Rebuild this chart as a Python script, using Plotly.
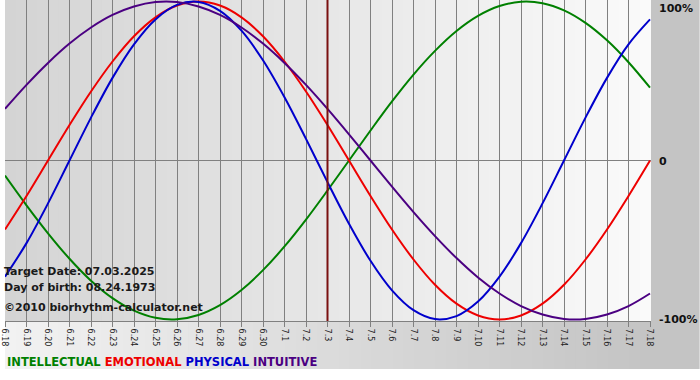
import plotly.graph_objects as go

days = ["6.18", "6.19", "6.20", "6.21", "6.22", "6.23", "6.24", "6.25", "6.26", "6.27",
        "6.28", "6.29", "6.30", "7.1", "7.2", "7.3", "7.4", "7.5", "7.6", "7.7",
        "7.8", "7.9", "7.10", "7.11", "7.12", "7.13", "7.14", "7.15", "7.16", "7.17", "7.18"]

intellectual = [-0.095, -0.282, -0.458, -0.618, -0.756, -0.866, -0.945, -0.990, -0.999, -0.972,
                -0.910, -0.815, -0.690, -0.541, -0.372, -0.189, 0.000, 0.189, 0.372, 0.541,
                0.690, 0.815, 0.910, 0.972, 0.999, 0.990, 0.945, 0.866, 0.756, 0.618, 0.458]
emotional = [-0.434, -0.223, 0.000, 0.223, 0.434, 0.623, 0.782, 0.901, 0.975, 1.000,
             0.975, 0.901, 0.782, 0.623, 0.434, 0.223, 0.000, -0.223, -0.434, -0.623,
             -0.782, -0.901, -0.975, -1.000, -0.975, -0.901, -0.782, -0.623, -0.434, -0.223, 0.000]
physical = [-0.731, -0.520, -0.270, 0.000, 0.270, 0.520, 0.731, 0.888, 0.979, 0.998,
            0.942, 0.817, 0.631, 0.398, 0.136, -0.136, -0.398, -0.631, -0.817, -0.942,
            -0.998, -0.979, -0.888, -0.731, -0.520, -0.270, 0.000, 0.270, 0.520, 0.731, 0.888]
intuitive = [0.325, 0.476, 0.614, 0.736, 0.837, 0.916, 0.969, 0.997, 0.997, 0.969,
             0.916, 0.837, 0.736, 0.614, 0.476, 0.325, 0.165, 0.000, -0.165, -0.325,
             -0.476, -0.614, -0.736, -0.837, -0.916, -0.969, -0.997, -0.997, -0.969, -0.916, -0.837]

target_label = "7.3"
y_labels = ["100%", "0", "-100%"]
y_label_vals = [1, 0, -1]

x = list(range(len(days)))
W, H = 700, 380
L, R, T, B = 0, 49, 0, 59
pw, ph = W - L - R, H - T - B

fig = go.Figure()
series = [("INTELLECTUAL", intellectual, "#008000"),
          ("EMOTIONAL", emotional, "#ee0000"),
          ("PHYSICAL", physical, "#0000cc"),
          ("INTUITIVE", intuitive, "#4b0082")]
for name, vals, col in series:
    fig.add_trace(go.Scatter(x=x, y=vals, mode="lines", name=name,
                             line=dict(color=col, width=2, shape="spline", smoothing=1.0),
                             hoverinfo="skip"))

shapes = []
N = 60
def mix(c1, c2, t):
    return "rgb(%d,%d,%d)" % tuple(round(a + (b - a) * t) for a, b in zip(c1, c2))
for i in range(N):
    t = i / (N - 1)
    shapes.append(dict(type="rect", xref="paper", yref="paper", x0=i / N, x1=(i + 1) / N + 0.002,
                       y0=0, y1=1, fillcolor=mix((212, 212, 212), (250, 250, 250), t),
                       line=dict(width=0), layer="below"))
bot = (369 - (H - B)) / ph
for i in range(N):
    t = i / (N - 1)
    shapes.append(dict(type="rect", xref="paper", yref="paper", x0=i / N, x1=(i + 1) / N + 0.002,
                       y0=-bot, y1=0, fillcolor=mix((242, 242, 242), (196, 196, 196), t),
                       line=dict(width=0), layer="below"))
shapes.append(dict(type="rect", xref="paper", yref="paper", x0=1, x1=W / pw,
                   y0=-bot, y1=1.0 + 1 / ph, fillcolor="rgb(196,196,196)",
                   line=dict(width=0), layer="below"))
ti = days.index(target_label)
shapes.append(dict(type="line", xref="x", yref="paper", x0=ti, x1=ti, y0=0, y1=1,
                   line=dict(color="#7a1010", width=2), layer="above"))
shapes.append(dict(type="line", xref="paper", yref="y", x0=0, x1=1, y0=0, y1=0,
                   line=dict(color="#808080", width=1), layer="below"))

annotations = []
for lab, v in zip(y_labels, y_label_vals):
    annotations.append(dict(xref="paper", yref="y", x=1 + 6 / pw, y=v, text="<b>%s</b>" % lab,
                            showarrow=False, xanchor="left", yanchor="middle",
                            yshift=(-7 if v == 1 else (0 if v == -1 else -1)),
                            font=dict(family="DejaVu Sans", size=11, color="#111111")))
info = ["Target Date: 07.03.2025", "Day of birth: 08.24.1973", "©2010 biorhythm-calculator.net"]
info_y = [271, 287, 307]
for txt, py in zip(info, info_y):
    annotations.append(dict(xref="paper", yref="paper", x=-3 / pw, y=1 - py / ph, text="<b>%s</b>" % txt,
                            showarrow=False, xanchor="left", yanchor="middle",
                            font=dict(family="DejaVu Sans", size=11, color="#1a1a1a")))
legend_txt = " ".join('<span style="color:%s">%s</span>' % (c, n) for n, _, c in series)
annotations.append(dict(xref="paper", yref="paper", x=0, y=1 - 362 / ph, text="<b>%s</b>" % legend_txt,
                        showarrow=False, xanchor="left", yanchor="middle",
                        font=dict(family="DejaVu Sans", size=11.5)))

fig.update_layout(
    width=W, height=H, margin=dict(l=L, r=R, t=T, b=B, pad=0),
    paper_bgcolor="white", plot_bgcolor="rgba(0,0,0,0)",
    showlegend=False, shapes=shapes, annotations=annotations,
    xaxis=dict(range=[0, 30 * 651 / 650], tickvals=x, ticktext=days, tickangle=90,
               showgrid=True, gridcolor="#808080", gridwidth=1, zeroline=False,
               ticks="outside", ticklen=5, tickcolor="#808080", ticklabeloverflow="allow",
               showline=True, linecolor="#808080", linewidth=1,
               tickfont=dict(family="DejaVu Sans", size=8, color="#222222"), fixedrange=True),
    yaxis=dict(range=[-1.01, 1.01], showgrid=False, zeroline=False, showticklabels=False,
               fixedrange=True),
)
fig.write_html("out.html", config={"displayModeBar": False})

with open("out.html", "r", encoding="utf-8") as f:
    html = f.read()
html = html.replace("<body>", '<body style="margin:0;padding:0;">', 1)
html = html.replace("<head>", '<head><style>html,body{margin:0;padding:0;}</style>', 1)
with open("out.html", "w", encoding="utf-8") as f:
    f.write(html)
